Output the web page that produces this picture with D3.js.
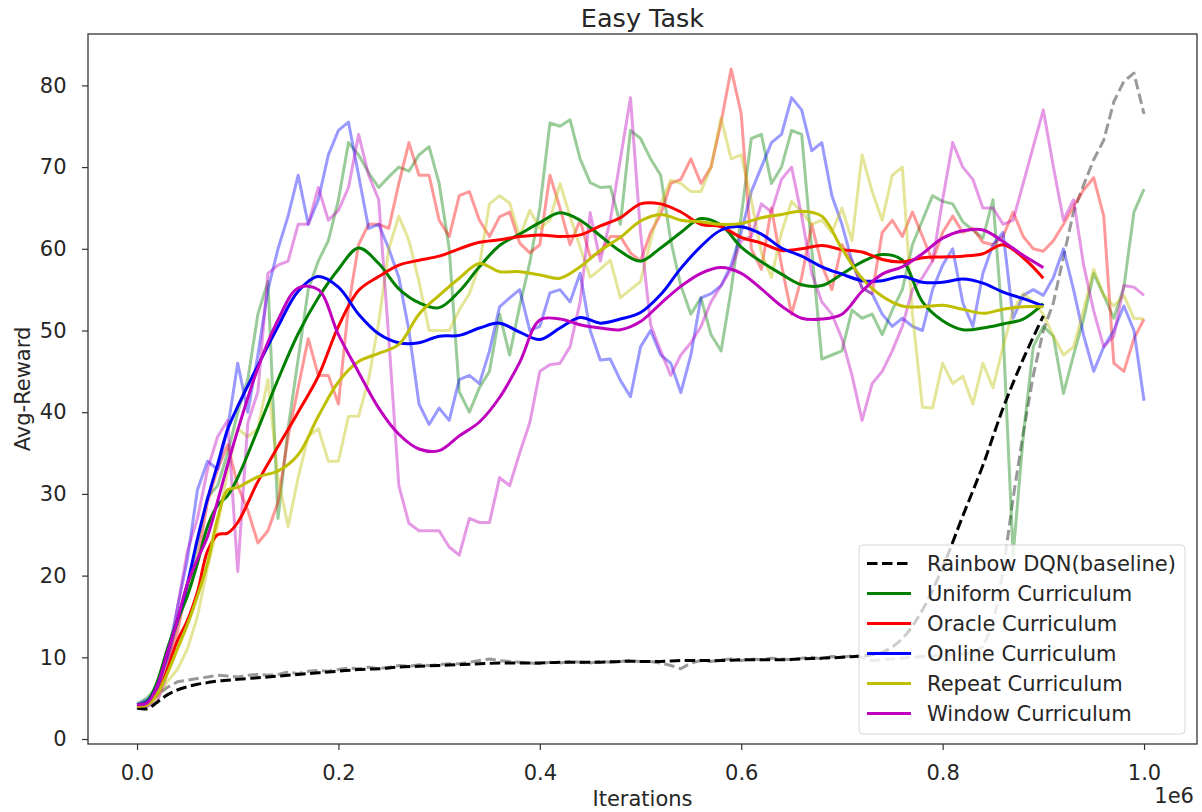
<!DOCTYPE html>
<html>
<head>
<meta charset="utf-8">
<script src="https://cdn.jsdelivr.net/npm/d3@7"></script>
<style>
  body { margin: 0; background: #fff; }
  svg { display: block; font-family: "DejaVu Sans", sans-serif; }
</style>
</head>
<body>
<svg id="chart" width="1202" height="812"></svg>
<script>
// Iterations are in units of 1e6. Raw curves are logged every 0.01e6 iterations.
const rawIterations = d3.range(0, 101).map(i => i / 100);

// Smoothed curves (moving average) end at 0.9e6.
const smoothIterations = [0, 0.01, 0.02, 0.03, 0.04, 0.05, 0.06, 0.07, 0.08, 0.09, 0.10,
  0.12, 0.14, 0.16, 0.18, 0.20, 0.22, 0.24, 0.26, 0.28, 0.30, 0.32, 0.34, 0.36, 0.38, 0.40,
  0.42, 0.44, 0.46, 0.48, 0.50, 0.52, 0.54, 0.56, 0.58, 0.60, 0.62, 0.64, 0.66, 0.68, 0.70,
  0.72, 0.74, 0.76, 0.78, 0.80, 0.82, 0.84, 0.86, 0.88, 0.90];

// ---- raw average reward per run ----
const rawBaseline = [4, 4.1, 5.4, 6.3, 7, 7.2, 7.4, 7.6, 7.8, 7.7,
  7.6, 7.8, 7.9, 7.8, 7.9, 8.2, 8, 8.3, 8.4, 8.3,
  8.5, 8.7, 8.6, 8.8, 8.6, 8.8, 9.0, 8.9, 9.1, 9.0,
  9.1, 9.2, 9.2, 9.4, 9.6, 9.8, 9.6, 9.5, 9.4, 9.3,
  9.2, 9.4, 9.3, 9.5, 9.4, 9.3, 9.5, 9.4, 9.5, 9.6,
  9.5, 9.5, 9.3, 9.0, 8.6, 9.3, 9.6, 9.5, 9.7, 9.8,
  9.6, 9.8, 9.7, 9.9, 9.8, 9.7, 9.9, 10, 9.8, 10.1,
  10, 10.2, 10, 9.6, 9.7, 9.8, 9.9, 10, 10.1, 10.2,
  10.3, 10.3, 10.4, 10.6, 11.3, 14, 20.5, 29.5, 37.4, 44.5,
  50, 53.4, 59, 64.5, 67.8, 70.9, 73.3, 78, 80.5, 81.5, 76.5];

const rawUniform = [4.3, 5, 6.5, 10, 14, 18, 24, 29.6, 31, 35,
  40, 44, 52, 56, 27, 38, 46.5, 55, 58.5, 61,
  66, 73, 71.5, 69.3, 67.5, 68.8, 70, 69.5, 71.5, 72.5,
  68, 60, 42.5, 40, 43, 45, 52, 47, 53, 58.3,
  65, 75.4, 75, 75.8, 71, 68.1, 67.5, 67.6, 63, 74.5,
  73.5, 71, 69, 61, 55.5, 52, 54, 49.5, 47.5, 55,
  64, 73.5, 74, 68, 70, 74.5, 74, 60, 46.5, 47,
  47.5, 52.5, 51.5, 52, 49.5, 52.5, 55, 60.5, 63.5, 66.5,
  65.8, 65.5, 63.3, 62.3, 61.3, 66, 50, 22.5, 37, 48,
  50.5, 49.3, 42.3, 47, 51.4, 57, 54.3, 51.5, 55.3, 64.5, 67.3];

const rawOracle = [4, 4.5, 6, 9.5, 13, 19, 22, 29, 33, 36,
  31, 28, 24, 25.5, 29, 37, 43, 49, 44.5, 44.5,
  41, 53, 60.5, 63, 63, 62.5, 68, 73, 69, 69,
  63.5, 61.5, 66.5, 67, 63.5, 61.5, 63.9, 64.5, 60.7, 59.5,
  60.5, 69, 65, 60.5, 63.5, 59, 59.5, 61.5, 61.5, 59.5,
  58.5, 62, 64.2, 68, 68.5, 71, 68, 70, 75.5, 82,
  76.5, 60, 57.5, 65, 58, 52, 56.5, 63, 58, 55,
  60.5, 58.5, 55.2, 54.5, 62, 63.5, 61.5, 64.5, 61.5, 58.5,
  62, 64, 62, 62.5, 60.8, 60.5, 61.5, 64.5, 61.5, 60,
  59.7, 61, 63, 65.2, 67.2, 68.7, 64, 46, 45, 49, 51.4];

const rawOnline = [4.2, 4.8, 6, 10, 16, 22, 30.5, 34, 33, 38,
  46, 40, 47, 55, 60, 64, 69, 63, 66, 71.5,
  74.5, 75.5, 69, 62.5, 63, 60, 56.5, 50, 41, 38.5,
  40.5, 39, 44, 44.5, 43.5, 47.5, 52.9, 54, 55, 50,
  50.5, 54.6, 55, 53.5, 57, 50, 46.4, 46.5, 43.9, 41.9,
  48, 50, 47, 46, 42.4, 47, 54, 54.5, 55.5, 58,
  62, 67, 70, 73, 74, 78.5, 77, 72, 73, 66.5,
  63, 58.5, 55.2, 54.5, 52, 50.5, 51.5, 50.5, 50, 55,
  58, 60, 53.4, 50.5, 57, 60.5, 62, 51.5, 54.3, 55,
  54.3, 56.5, 60, 55, 49.4, 45, 48, 50, 53, 50, 41.4];

const rawRepeat = [3.8, 4, 5, 7, 8.5, 11, 15, 21, 26, 33,
  38, 37, 38, 44, 32, 26, 32, 37, 38, 34,
  34, 39.5, 39.5, 44, 51, 60, 64, 61, 56, 50,
  50, 50, 52.5, 54.5, 58, 65.5, 66.5, 65.6, 61.5, 64.7,
  62.5, 63.5, 68, 64, 60.2, 56.5, 57.5, 58.6, 54, 55,
  56, 61, 65.5, 68.4, 68, 67, 67, 70, 76, 71,
  71.5, 66, 59.5, 56.5, 62, 65.8, 64.5, 63, 63.5, 62,
  65, 61, 71.5, 67, 63.5, 69, 70, 52, 40.6, 40.5,
  46, 43.5, 44.4, 41, 46, 43, 48, 52.5, 54.5, 53.5,
  52, 49.3, 47, 48, 52.5, 57.5, 54.3, 53, 54.3, 51.5, 51.4];

const rawWindow = [4.2, 4, 4.5, 8, 16, 23, 27, 33, 37, 39,
  20.5, 38.7, 42.5, 57, 58, 58.5, 63, 63, 67.5, 63.5,
  64.7, 67.5, 74, 69, 66, 49, 31, 26.4, 25.5, 25.5,
  25.5, 23.5, 22.5, 27, 26.5, 26.5, 32, 31, 35, 38.7,
  45, 45.8, 46, 48, 53.5, 64.4, 58.5, 63.5, 71, 78.5,
  62, 50.7, 47.5, 44.5, 47, 48.5, 50.5, 53.5, 55.5, 57.5,
  61, 61.5, 65.5, 64.5, 68.5, 70, 64, 57, 53.5, 52,
  49, 44.5, 39, 43.5, 45, 47.5, 50.5, 55, 56.5, 58.5,
  66, 73, 70, 68.5, 65, 65, 63, 63.5, 68, 72.5,
  77, 70, 63.5, 66, 58, 52.4, 48, 49.3, 55.5, 55.3, 54.3];

// ---- smoothed average reward ----
const smoothBaseline = [3.8, 3.7, 4.5, 5.4, 6, 6.4, 6.7, 6.9, 7.1, 7.2, 7.3,
  7.5, 7.7, 7.9, 8.1, 8.3, 8.5, 8.6, 8.8, 8.9, 9.0, 9.1, 9.2, 9.3, 9.3, 9.3,
  9.4, 9.4, 9.4, 9.5, 9.5, 9.5, 9.6, 9.6, 9.6, 9.7, 9.7, 9.7, 9.8, 9.9, 10,
  10.2, 10.6, 12.3, 15.8, 21, 27.3, 33.5, 40.5, 46.5, 51.8];

const smoothUniform = [4.2, 4.6, 7, 11, 14.5, 17.5, 21.5, 26, 28.6, 29.8, 32,
  37.9, 44, 49.6, 54, 57.5, 60.1, 58.2, 55.1, 53.4, 52.8, 54.8, 57.8, 60.4, 61.8, 63.2,
  64.4, 63.5, 61.6, 59.7, 58.5, 60.1, 62, 63.7, 62.9, 60.2, 58.4, 56.9, 55.6, 55.5, 56.9,
  58.4, 59.3, 58.6, 53.5, 51.2, 50.1, 50.3, 50.8, 51.4, 53.3];

const smoothOracle = [4, 4.3, 5.5, 8.5, 12, 14.5, 18, 23, 25, 25.2, 26.5,
  31.5, 35.8, 40, 44.4, 50.5, 54.9, 56.6, 58, 58.6, 59.1, 60, 60.8, 61.1, 61.5, 61.7,
  61.5, 61.7, 62.8, 63.8, 65.5, 65.5, 64.5, 63, 62.7, 61.4, 60.7, 59.8, 60, 60.4, 59.9,
  59.6, 58.7, 58.4, 58.9, 59, 59.1, 59.4, 60.5, 58.9, 56.4];

const smoothOnline = [4.2, 4.5, 6.5, 10.5, 14.5, 19, 24.5, 29.4, 33.6, 37.9, 40.7,
  45.7, 50.5, 54.8, 56.6, 55.3, 52, 49.6, 48.5, 48.5, 49.3, 49.4, 50.3, 50.9, 49.8, 48.9,
  50.3, 51.6, 50.9, 51.4, 52.2, 54.4, 57.6, 60.3, 62.3, 62.7, 61.8, 60.1, 59.1, 57.8, 56.9,
  56.1, 56.1, 56.6, 55.9, 55.9, 56.3, 55.8, 54.7, 53.9, 53];

const smoothRepeat = [4, 4.2, 5.5, 8, 11, 14, 17.5, 21.5, 27, 30.5, 30.8,
  32.1, 32.8, 34.8, 39.5, 43.7, 46.2, 47.2, 48.3, 52, 54.3, 56.4, 58.2, 57.2, 57.2, 56.8,
  56.4, 57.8, 59.8, 61.4, 63.4, 64.2, 63.5, 63.3, 63, 63.1, 63.8, 64.2, 64.6, 64, 60,
  56.4, 54.2, 53, 52.9, 53.1, 52.6, 52.1, 52.6, 52.9, 52.9];

const smoothWindow = [4.2, 4.4, 6.5, 10.5, 14.5, 19, 22, 24.8, 29.1, 33.6, 37.8,
  45.4, 51.3, 55.2, 55, 49.5, 44.9, 40.5, 37.3, 35.5, 35.3, 37.1, 38.8, 41.8, 46.1, 51.3,
  51.4, 50.7, 50.3, 50.1, 51.1, 53.3, 55.4, 57, 57.7, 57, 55.1, 53, 51.5, 51.4, 52,
  54.8, 56.9, 57.8, 59.4, 61.3, 62.2, 62.3, 60.9, 59.2, 57.7];

const seriesNames = ["Rainbow DQN(baseline)", "Uniform Curriculum", "Oracle Curriculum",
  "Online Curriculum", "Repeat Curriculum", "Window Curriculum"];
const rawSeries = [rawBaseline, rawUniform, rawOracle, rawOnline, rawRepeat, rawWindow];
const smoothSeries = [smoothBaseline, smoothUniform, smoothOracle, smoothOnline, smoothRepeat, smoothWindow];
const seriesColors = ["#000000", "#008000", "#ff0000", "#0000ff", "#bfbf00", "#bf00bf"];

const xTicks = [0, 0.2, 0.4, 0.6, 0.8, 1.0];
const yTicks = [0, 10, 20, 30, 40, 50, 60, 70, 80];

// ---- layout ----
const svg = d3.select("#chart");
const plot = { left: 88, top: 34, right: 1197, bottom: 744 };
const x = d3.scaleLinear().domain([-0.0487, 1.0526]).range([plot.left, plot.right]);
const y = d3.scaleLinear().domain([-0.61, 86.29]).range([plot.bottom, plot.top]);
const tickFont = "21px";
const textColor = "#262626";

const dash = "10.5,4.5";

// raw runs (faded)
const rawLine = d3.line().x((d, i) => x(rawIterations[i])).y(d => y(d));
const rawG = svg.append("g");
rawSeries.forEach((vals, k) => {
  rawG.append("path")
    .attr("d", rawLine(vals))
    .attr("fill", "none")
    .attr("stroke", seriesColors[k])
    .attr("stroke-opacity", 0.4)
    .attr("stroke-width", 3)
    .attr("stroke-linejoin", "round")
    .attr("stroke-dasharray", k === 0 ? dash : null);
});

// smoothed curves
const smoothLine = d3.line().x((d, i) => x(smoothIterations[i])).y(d => y(d)).curve(d3.curveCatmullRom);
const smoothG = svg.append("g");
smoothSeries.forEach((vals, k) => {
  smoothG.append("path")
    .attr("d", smoothLine(vals))
    .attr("fill", "none")
    .attr("stroke", seriesColors[k])
    .attr("stroke-width", 3)
    .attr("stroke-linejoin", "round")
    .attr("stroke-dasharray", k === 0 ? dash : null);
});

// axes
const xAxis = svg.append("g")
  .attr("transform", `translate(0,${plot.bottom})`)
  .call(d3.axisBottom(x).tickValues(xTicks).tickFormat(d3.format(".1f")).tickSize(6).tickPadding(15));
const yAxis = svg.append("g")
  .attr("transform", `translate(${plot.left},0)`)
  .call(d3.axisLeft(y).tickValues(yTicks).tickFormat(d3.format("d")).tickSize(6).tickPadding(15.5));
[xAxis, yAxis].forEach(a => {
  a.select(".domain").remove();
  a.selectAll(".tick line").attr("stroke", "#333").attr("stroke-width", 1.2);
  a.selectAll(".tick text").attr("fill", textColor).style("font-size", tickFont)
    .style("font-family", "'DejaVu Sans', sans-serif");
});

// frame
svg.append("rect")
  .attr("x", plot.left).attr("y", plot.top)
  .attr("width", plot.right - plot.left).attr("height", plot.bottom - plot.top)
  .attr("fill", "none").attr("stroke", "#333").attr("stroke-width", 1.3);

// titles and labels
svg.append("text").attr("x", (plot.left + plot.right) / 2).attr("y", 27)
  .attr("text-anchor", "middle").attr("fill", textColor).style("font-size", "25.5px")
  .text("Easy Task");
svg.append("text").attr("x", (plot.left + plot.right) / 2).attr("y", 806)
  .attr("text-anchor", "middle").attr("fill", textColor).style("font-size", tickFont)
  .text("Iterations");
svg.append("text").attr("transform", `translate(30,${(plot.top + plot.bottom) / 2}) rotate(-90)`)
  .attr("text-anchor", "middle").attr("fill", textColor).style("font-size", tickFont)
  .text("Avg-Reward");
svg.append("text").attr("x", 1194).attr("y", 803)
  .attr("text-anchor", "end").attr("fill", textColor).style("font-size", tickFont)
  .text("1e6");

// legend
const legend = svg.append("g");
legend.append("rect")
  .attr("x", 859).attr("y", 545).attr("width", 326).attr("height", 189).attr("rx", 4)
  .attr("fill", "#fff").attr("fill-opacity", 0.8)
  .attr("stroke", "#ccc").attr("stroke-opacity", 0.8).attr("stroke-width", 1);
seriesNames.forEach((name, k) => {
  const cy = 563.5 + k * 30;
  legend.append("line")
    .attr("x1", 867).attr("x2", 911).attr("y1", cy).attr("y2", cy)
    .attr("stroke", seriesColors[k]).attr("stroke-width", 3)
    .attr("stroke-dasharray", k === 0 ? dash : null);
  legend.append("text").attr("x", 927).attr("y", cy).attr("dy", "0.35em")
    .attr("fill", textColor).style("font-size", tickFont).text(name);
});
</script>
</body>
</html>
